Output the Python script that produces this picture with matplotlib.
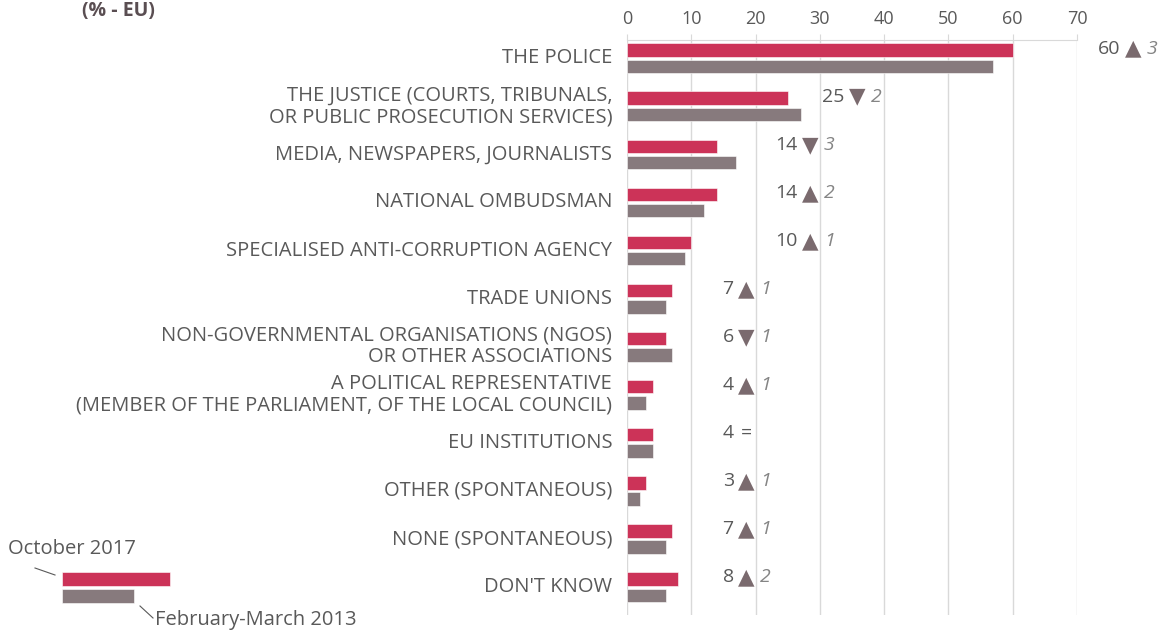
import matplotlib
matplotlib.use("Agg")
import matplotlib.pyplot as plt
from matplotlib.patches import Rectangle
from matplotlib.lines import Line2D
import numpy as np

categories = [
    "THE POLICE",
    "THE JUSTICE (COURTS, TRIBUNALS,\nOR PUBLIC PROSECUTION SERVICES)",
    "MEDIA, NEWSPAPERS, JOURNALISTS",
    "NATIONAL OMBUDSMAN",
    "SPECIALISED ANTI-CORRUPTION AGENCY",
    "TRADE UNIONS",
    "NON-GOVERNMENTAL ORGANISATIONS (NGOS)\nOR OTHER ASSOCIATIONS",
    "A POLITICAL REPRESENTATIVE\n(MEMBER OF THE PARLIAMENT, OF THE LOCAL COUNCIL)",
    "EU INSTITUTIONS",
    "OTHER (SPONTANEOUS)",
    "NONE (SPONTANEOUS)",
    "DON'T KNOW",
]
oct_2017 = [60, 25, 14, 14, 10, 7, 6, 4, 4, 3, 7, 8]
feb_2013 = [57, 27, 17, 12, 9, 6, 7, 3, 4, 2, 6, 6]
x_ticks = [0, 10, 20, 30, 40, 50, 60, 70]
series_names = ["October 2017", "February-March 2013"]
title = "(% - EU)"

# layout: x (data units) where the change arrow sits for each row
annot_x = [78.7, 35.8, 28.5, 28.5, 28.5, 18.6, 18.6, 18.6, 18.6, 18.6, 18.6, 18.6]

RED = "#cc3358"
GREY = "#877a7d"
TRI = "#7a6a6e"
TXT = "#595959"
ITAL = "#858585"
GRID = "#d9d9d9"
FONT = "Open Sans"
plt.rcParams["font.family"] = [FONT, "DejaVu Sans"]

W, H = 1162, 633
fig = plt.figure(figsize=(W / 100, H / 100), dpi=100)
ax = fig.add_axes([627 / W, 1 - 615 / H, (1077 - 627) / W, (615 - 40) / H])

n = len(categories)
y = np.arange(n)
bh = 0.28
off = 0.17
ax.barh(y - off, oct_2017, height=bh, color=RED, edgecolor="white", linewidth=0.4, zorder=3)
ax.barh(y + off, feb_2013, height=bh, color=GREY, edgecolor="white", linewidth=0.4, zorder=3)

ax.set_xlim(0, 70)
ax.set_ylim(n - 0.42, -0.38)
ax.set_xticks(x_ticks)
ax.xaxis.tick_top()
ax.tick_params(axis="x", colors=GRID, labelcolor=TXT, labelsize=13, length=4, pad=5)
ax.set_yticks([])
ax.grid(axis="x", color=GRID, linewidth=1, zorder=0)
for s in ["left", "right", "bottom"]:
    ax.spines[s].set_visible(False)
ax.spines["top"].set_color(GRID)

for i, c in enumerate(categories):
    ax.text(-2.3, i, c, ha="right", va="center", fontsize=14.5, color=TXT,
            linespacing=1.1)

for i in range(n):
    d = oct_2017[i] - feb_2013[i]
    yy = i - off - 0.03
    ax.text(annot_x[i] - 2.0, yy, str(oct_2017[i]), ha="right", va="center",
            fontsize=14, color=TXT, clip_on=False)
    if d == 0:
        ax.text(annot_x[i], yy, "=", ha="center", va="center",
                fontsize=14, color=TXT, clip_on=False)
    else:
        sym = "\u25B2" if d > 0 else "\u25BC"
        ax.text(annot_x[i], yy, sym, ha="center", va="center",
                fontsize=15.5, color=TRI, family="DejaVu Sans", clip_on=False)
        ax.text(annot_x[i] + 2.1, yy, str(abs(d)), ha="left", va="center",
                fontsize=14, color=ITAL, style="italic", clip_on=False)

# title
fig.text(82 / W, 1 - 1 / H, title, ha="left", va="top", fontsize=14,
         fontweight="bold", color="#5a4e52")

# custom legend
def px(x, yv):
    return x / W, 1 - yv / H
fig.patches.append(Rectangle(px(62, 586), 108 / W, 14 / H, transform=fig.transFigure,
                             facecolor=RED, edgecolor="white", linewidth=0.4))
fig.patches.append(Rectangle(px(62, 603), 72 / W, 14 / H, transform=fig.transFigure,
                             facecolor=GREY, edgecolor="white", linewidth=0.4))
fig.lines.append(Line2D([35 / W, 55 / W], [1 - 568 / H, 1 - 575 / H],
                        transform=fig.transFigure, color=TXT, linewidth=0.8))
fig.lines.append(Line2D([140 / W, 153 / W], [1 - 606 / H, 1 - 618 / H],
                        transform=fig.transFigure, color=TXT, linewidth=0.8))
fig.text(8 / W, 1 - 549 / H, series_names[0], ha="left", va="center",
         fontsize=14.5, color=TXT)
fig.text(155 / W, 1 - 620 / H, series_names[1], ha="left", va="center",
         fontsize=14.5, color=TXT)

fig.savefig("out.png", dpi=100, facecolor="white")
